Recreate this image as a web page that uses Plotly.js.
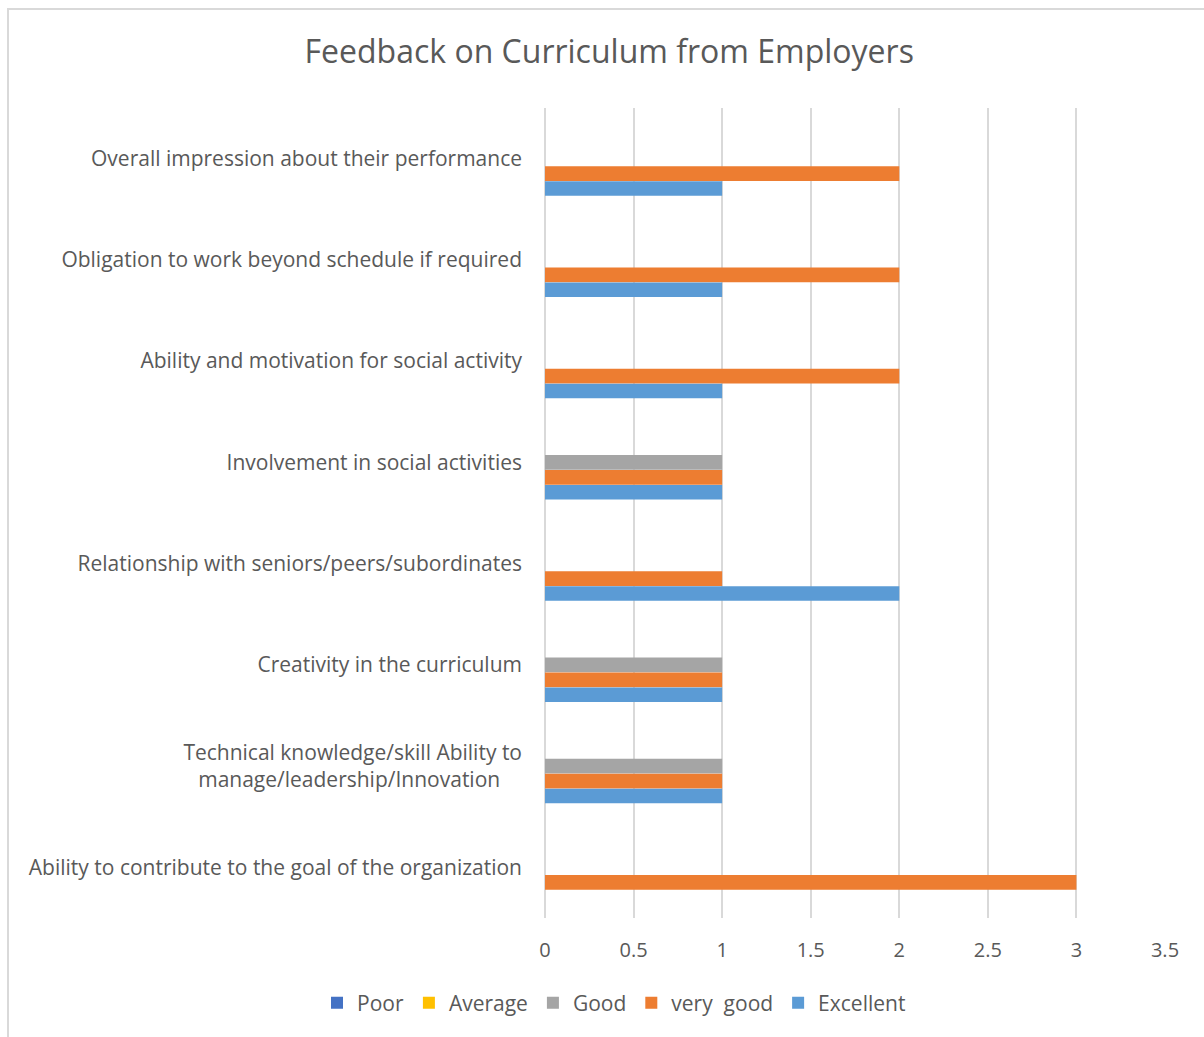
<!DOCTYPE html>
<html>
<head>
<meta charset="utf-8">
<script src="https://cdn.plot.ly/plotly-3.0.1.min.js"></script>
<style>
  html, body { margin: 0; padding: 0; background: #fff; }
  #wrap { position: relative; width: 1204px; height: 1037px; overflow: hidden; }
  #chart { width: 1204px; height: 1037px; }
  #frame { position: absolute; left: 7px; top: 8px; width: 1300px; height: 1100px;
           border: 2px solid #d9d9d9; pointer-events: none; box-sizing: border-box; }
</style>
</head>
<body>
<div id="wrap">
  <div id="chart"></div>
  <div id="frame"></div>
</div>
<script>
// Categories listed top to bottom
const categories = [
  "Overall impression about their performance",
  "Obligation to work beyond schedule if required",
  "Ability and motivation for social activity",
  "Involvement in social activities",
  "Relationship with seniors/peers/subordinates",
  "Creativity in the curriculum",
  "Technical knowledge/skill Ability to<br>manage/leadership/Innovation\u00a0\u00a0\u00a0\u00a0",
  "Ability to contribute to the goal of the organization"
];
const seriesNames = ["Poor", "Average", "Good", "very\u00a0 good", "Excellent"];
const poor      = [0, 0, 0, 0, 0, 0, 0, 0];
const average   = [0, 0, 0, 0, 0, 0, 0, 0];
const good      = [0, 0, 0, 1, 0, 1, 1, 0];
const veryGood  = [2, 2, 2, 1, 1, 1, 1, 3];
const excellent = [1, 1, 1, 1, 2, 1, 1, 0];
const xTicks = [0, 0.5, 1, 1.5, 2, 2.5, 3, 3.5];

const colors = ["#4472C4", "#FFC000", "#A5A5A5", "#ED7D31", "#5B9BD5"];
const values = [poor, average, good, veryGood, excellent];

const traces = values.map((v, i) => ({
  type: "bar",
  orientation: "h",
  name: seriesNames[i],
  y: categories,
  x: v,
  marker: { color: colors[i], line: { width: 0 } },
  hoverinfo: "x+name"
}));

const font = "'Open Sans', 'Noto Sans', sans-serif";

const layout = {
  width: 1204,
  height: 1037,
  paper_bgcolor: "#ffffff",
  plot_bgcolor: "#ffffff",
  margin: { l: 545, r: 39, t: 108, b: 119, pad: 0 },
  barmode: "group",
  bargap: 0.26,
  bargroupgap: 0.03,
  title: {
    text: "Feedback on Curriculum from Employers",
    font: { family: font, size: 32, color: "#595959" },
    xref: "container", x: 0.506, xanchor: "center",
    yref: "container", y: 1 - 52 / 1037, yanchor: "middle"
  },
  xaxis: {
    range: [0, 3.5],
    tickvals: xTicks,
    ticktext: xTicks.map(String),
    showgrid: true,
    gridcolor: "#d9d9d9",
    gridwidth: 2,
    zeroline: true,
    zerolinecolor: "#d9d9d9",
    zerolinewidth: 2,
    showline: false,
    ticks: "",
    ticklabelstandoff: 18,
    tickfont: { family: font, size: 20, color: "#595959" },
    fixedrange: true
  },
  yaxis: {
    type: "category",
    categoryorder: "array",
    categoryarray: categories,
    autorange: "reversed",
    showgrid: false,
    zeroline: false,
    showline: false,
    ticks: "",
    ticklabelstandoff: 22,
    tickfont: { family: font, size: 21, color: "#595959" },
    fixedrange: true
  },
  showlegend: true,
  legend: {
    orientation: "h",
    x: (614 - 545) / 620, xanchor: "center",
    y: (918 - 1003) / 810, yanchor: "middle",
    font: { family: font, size: 21, color: "#595959" },
    itemclick: false, itemdoubleclick: false
  }
};

Plotly.newPlot("chart", traces, layout, { displayModeBar: false, staticPlot: true });
</script>
</body>
</html>
